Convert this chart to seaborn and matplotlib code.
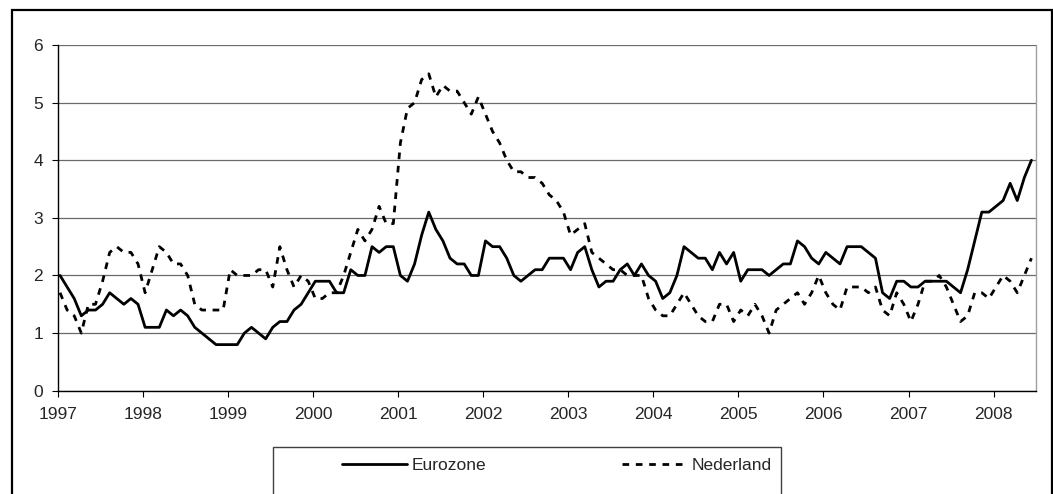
import numpy as np
import pandas as pd
import matplotlib
matplotlib.use('Agg')
import matplotlib.pyplot as plt
import seaborn as sns
from matplotlib.lines import Line2D
from matplotlib.patches import Rectangle

# monthly inflation (%), Jan 1997 - Jun 2008
eurozone = [
    2.0, 1.8, 1.6, 1.3, 1.4, 1.4, 1.5, 1.7, 1.6, 1.5, 1.6, 1.5,  # 1997
    1.1, 1.1, 1.1, 1.4, 1.3, 1.4, 1.3, 1.1, 1.0, 0.9, 0.8, 0.8,  # 1998
    0.8, 0.8, 1.0, 1.1, 1.0, 0.9, 1.1, 1.2, 1.2, 1.4, 1.5, 1.7,  # 1999
    1.9, 1.9, 1.9, 1.7, 1.7, 2.1, 2.0, 2.0, 2.5, 2.4, 2.5, 2.5,  # 2000
    2.0, 1.9, 2.2, 2.7, 3.1, 2.8, 2.6, 2.3, 2.2, 2.2, 2.0, 2.0,  # 2001
    2.6, 2.5, 2.5, 2.3, 2.0, 1.9, 2.0, 2.1, 2.1, 2.3, 2.3, 2.3,  # 2002
    2.1, 2.4, 2.5, 2.1, 1.8, 1.9, 1.9, 2.1, 2.2, 2.0, 2.2, 2.0,  # 2003
    1.9, 1.6, 1.7, 2.0, 2.5, 2.4, 2.3, 2.3, 2.1, 2.4, 2.2, 2.4,  # 2004
    1.9, 2.1, 2.1, 2.1, 2.0, 2.1, 2.2, 2.2, 2.6, 2.5, 2.3, 2.2,  # 2005
    2.4, 2.3, 2.2, 2.5, 2.5, 2.5, 2.4, 2.3, 1.7, 1.6, 1.9, 1.9,  # 2006
    1.8, 1.8, 1.9, 1.9, 1.9, 1.9, 1.8, 1.7, 2.1, 2.6, 3.1, 3.1,  # 2007
    3.2, 3.3, 3.6, 3.3, 3.7, 4.0,                                # 2008
]

nederland = [
    1.7, 1.4, 1.3, 1.0, 1.5, 1.5, 1.9, 2.4, 2.5, 2.4, 2.4, 2.2,  # 1997
    1.7, 2.1, 2.5, 2.4, 2.2, 2.2, 2.0, 1.5, 1.4, 1.4, 1.4, 1.4,  # 1998
    2.1, 2.0, 2.0, 2.0, 2.1, 2.1, 1.8, 2.5, 2.1, 1.8, 2.0, 1.9,  # 1999
    1.6, 1.6, 1.7, 1.7, 2.0, 2.4, 2.8, 2.6, 2.8, 3.2, 2.9, 2.9,  # 2000
    4.3, 4.9, 5.0, 5.4, 5.5, 5.1, 5.3, 5.2, 5.2, 5.0, 4.8, 5.1,  # 2001
    4.8, 4.5, 4.3, 4.0, 3.8, 3.8, 3.7, 3.7, 3.6, 3.4, 3.3, 3.1,  # 2002
    2.7, 2.8, 2.9, 2.4, 2.3, 2.2, 2.1, 2.1, 2.0, 2.0, 2.0, 1.6,  # 2003
    1.4, 1.3, 1.3, 1.5, 1.7, 1.5, 1.3, 1.2, 1.2, 1.5, 1.5, 1.2,  # 2004
    1.4, 1.3, 1.5, 1.3, 1.0, 1.4, 1.5, 1.6, 1.7, 1.5, 1.7, 2.0,  # 2005
    1.7, 1.5, 1.4, 1.8, 1.8, 1.8, 1.7, 1.8, 1.4, 1.3, 1.7, 1.5,  # 2006
    1.2, 1.5, 1.9, 1.9, 2.0, 1.8, 1.5, 1.2, 1.3, 1.7, 1.7, 1.6,  # 2007
    1.8, 2.0, 1.9, 1.7, 2.0, 2.3,                                # 2008
]

year_labels = ['1997', '1998', '1999', '2000', '2001', '2002',
               '2003', '2004', '2005', '2006', '2007', '2008']
series_names = ['Eurozone', 'Nederland']

months = np.arange(len(eurozone))
df = pd.concat([
    pd.DataFrame({'month': months, 'value': eurozone, 'series': series_names[0]}),
    pd.DataFrame({'month': months, 'value': nederland, 'series': series_names[1]}),
])

sns.set_theme(style='white')
plt.rcParams['font.family'] = ['Liberation Sans', 'DejaVu Sans']

W, H = 1053, 494
fs = 12.5
fig = plt.figure(figsize=(W / 100, H / 100), dpi=100)

# plot area in pixels: left 57.7, right 1035.7, top 45, bottom 390.7
ax = fig.add_axes([57.7 / W, (H - 390.7) / H, 978 / W, 345.7 / H])

dash_style = {'Eurozone': '', 'Nederland': (2.4, 2.4)}
sns.lineplot(data=df, x='month', y='value', style='series', dashes=dash_style,
             color='black', linewidth=2.0, ax=ax, legend=False)

ax.set_xlim(-0.33, 137.6)
ax.set_ylim(0, 6)
ax.set_xticks(np.arange(len(year_labels)) * 12 - 0.33)
ax.set_xticklabels(year_labels)
ax.set_yticks(range(7))
ax.set_xlabel('')
ax.set_ylabel('')

ax.grid(axis='y', color='#6a6a6a', linewidth=0.9)
ax.grid(axis='x', visible=False)
ax.set_axisbelow(True)

for side in ['left', 'bottom']:
    ax.spines[side].set_color('black')
    ax.spines[side].set_linewidth(1.0)
ax.spines['top'].set_visible(False)
ax.spines['right'].set_color('#a0a0a0')
ax.spines['right'].set_linewidth(1.0)

ax.tick_params(axis='x', direction='out', length=4.5, width=0.8, color='black',
               pad=7, labelsize=fs, bottom=True)
ax.tick_params(axis='y', direction='out', length=4.5, width=0.8, color='black',
               pad=6, labelsize=fs, left=True)

# legend (outside, boxed at the bottom)
handles = [Line2D([], [], color='black', lw=2.0),
           Line2D([], [], color='black', lw=2.0, dashes=(2.4, 2.4))]
fig.legend(handles, series_names, loc='center left',
           bbox_to_anchor=(341.7 / W, (H - 465) / H), ncol=2, frameon=False,
           fontsize=fs, handlelength=3.74, handletextpad=0.29,
           columnspacing=7.8, borderpad=0, borderaxespad=0)

fig.add_artist(Rectangle((273.3 / W, -0.1), (781 - 273.3) / W, 0.1 + (H - 447.3) / H,
                         transform=fig.transFigure, fill=False,
                         edgecolor='#404040', linewidth=1.0, clip_on=False))

# outer chart border
fig.add_artist(Rectangle((11.7 / W, -0.1), (1051.7 - 11.7) / W, 0.1 + (H - 10) / H,
                         transform=fig.transFigure, fill=False,
                         edgecolor='black', linewidth=1.6, clip_on=False))

fig.savefig('out.png', dpi=100)
